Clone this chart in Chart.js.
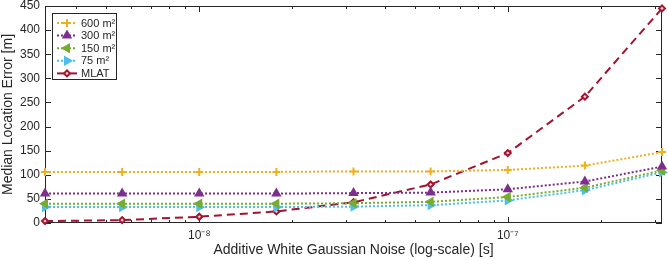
<!DOCTYPE html>
<html lang="en">
<head>
<meta charset="UTF-8">
<title>Median Location Error vs AWGN</title>
<script src="https://cdn.jsdelivr.net/npm/chart.js@4"></script>
<style>
  body { margin: 0; background: #fff; }
  canvas { display: block; }
</style>
</head>
<body>
<canvas id="chart" width="668" height="261"></canvas>
<script>
// noise levels (s), quarter-decade steps
const noise = [3.162e-9, 5.623e-9, 1e-8, 1.778e-8, 3.162e-8, 5.623e-8, 1e-7, 1.778e-7, 3.162e-7];
const seriesLabels = ['600 m²', '300 m²', '150 m²', '75 m²', 'MLAT'];
const area600 = [106, 106, 106, 106, 107, 107, 110, 119, 147];
const area300 = [61, 61, 61, 61, 62, 63, 70, 86, 117];
const area150 = [40, 40, 40, 40, 41, 44, 54, 73, 109];
const area75  = [33, 33, 33, 33, 34, 37, 47, 68, 105];
const mlat    = [4, 6, 13, 24, 43, 80, 145, 262, 445];
const xTicks = [4e-9, 5e-9, 6e-9, 7e-9, 8e-9, 9e-9, 1e-8, 2e-8, 3e-8, 4e-8, 5e-8, 6e-8, 7e-8, 8e-8, 9e-8, 1e-7, 2e-7, 3e-7];
const xTickLabels = { '1e-8': '10⁻⁸', '1e-7': '10⁻⁷' };
const yTicks = [0, 50, 100, 150, 200, 250, 300, 350, 400, 450];

const axisColor = '#262626';
const font = 'Liberation Sans, Arial, sans-serif';

function pts(vals) { return vals.map((v, i) => ({ x: noise[i], y: v })); }

const styles = [
  { color: '#EDB120', pointStyle: 'cross', radius: 4, rotation: 0, dash: [2, 2], fill: '#EDB120' },
  { color: '#7E2F8E', pointStyle: 'triangle', radius: 4, rotation: 0, dash: [2, 2], fill: '#7E2F8E' },
  { color: '#77AC30', pointStyle: 'triangle', radius: 4, rotation: 270, dash: [2, 2], fill: '#77AC30' },
  { color: '#4DBEEE', pointStyle: 'triangle', radius: 4, rotation: 90, dash: [2, 2], fill: '#4DBEEE' },
  { color: '#A2142F', pointStyle: 'rectRot', radius: 3, rotation: 0, dash: [8, 5], fill: '#F3D0D6' }
];
const allData = [area600, area300, area150, area75, mlat];

const datasets = allData.map((d, i) => ({
  label: seriesLabels[i],
  data: pts(d),
  borderColor: styles[i].color,
  backgroundColor: styles[i].fill,
  borderWidth: 2,
  borderDash: styles[i].dash,
  pointStyle: styles[i].pointStyle,
  pointRadius: styles[i].radius,
  pointRotation: styles[i].rotation,
  pointBorderColor: styles[i].color,
  pointBackgroundColor: styles[i].fill,
  pointBorderWidth: 2,
  tension: 0,
  clip: false
}));

// box + inward ticks like the matlab figure
const frame = {
  id: 'frame',
  beforeDatasetsDraw(chart) {
    const { ctx, chartArea: a, scales } = chart;
    ctx.save();
    ctx.strokeStyle = axisColor;
    ctx.lineWidth = 1;
    ctx.strokeRect(a.left + 0.5, a.top + 0.5, a.right - a.left - 1, a.bottom - a.top - 1);
    ctx.beginPath();
    yTicks.forEach(v => {
      const y = Math.round(scales.y.getPixelForValue(v)) + 0.5;
      ctx.moveTo(a.left, y); ctx.lineTo(a.left + 6, y);
      ctx.moveTo(a.right, y); ctx.lineTo(a.right - 6, y);
    });
    xTicks.forEach(v => {
      const x = Math.round(scales.x.getPixelForValue(v)) + 0.5;
      const len = xTickLabels[String(v)] ? 6 : 3;
      ctx.moveTo(x, a.bottom); ctx.lineTo(x, a.bottom - len);
      ctx.moveTo(x, a.top); ctx.lineTo(x, a.top + len);
    });
    ctx.stroke();
    ctx.restore();
  }
};

// legend box in the upper left of the axes
const boxLegend = {
  id: 'boxLegend',
  afterDraw(chart) {
    const { ctx } = chart;
    const x0 = 52, y0 = 13, w = 64, h = 66;
    ctx.save();
    ctx.fillStyle = '#fff';
    ctx.fillRect(x0, y0, w, h);
    ctx.strokeStyle = axisColor;
    ctx.lineWidth = 1;
    ctx.strokeRect(x0 + 0.5, y0 + 0.5, w, h);
    chart.data.datasets.forEach((ds, i) => {
      const y = y0 + 10 + i * 12.6;
      ctx.strokeStyle = ds.borderColor;
      ctx.lineWidth = 2;
      ctx.setLineDash(i === 4 ? [] : [2, 2]);
      ctx.beginPath();
      ctx.moveTo(x0 + 5, y); ctx.lineTo(x0 + 25, y);
      ctx.stroke();
      ctx.setLineDash([]);
      ctx.fillStyle = ds.pointBackgroundColor;
      ctx.strokeStyle = ds.pointBorderColor;
      Chart.helpers.drawPoint(ctx, {
        pointStyle: ds.pointStyle, radius: ds.pointRadius, rotation: ds.pointRotation, borderWidth: 2
      }, x0 + 15, y);
      ctx.fillStyle = axisColor;
      ctx.font = '11px ' + font;
      ctx.textBaseline = 'middle';
      ctx.fillText(ds.label, x0 + 29, y + 0.5);
    });
    ctx.restore();
  }
};

new Chart(document.getElementById('chart'), {
  type: 'line',
  data: { datasets },
  options: {
    responsive: false,
    devicePixelRatio: 1,
    animation: false,
    layout: { padding: { top: 6, right: 1, left: 0, bottom: 0 } },
    plugins: { legend: { display: false }, tooltip: { enabled: false } },
    scales: {
      x: {
        type: 'logarithmic',
        min: 3.162e-9,
        max: 3.162e-7,
        afterBuildTicks: s => { s.ticks = xTicks.map(v => ({ value: v })); },
        afterFit: s => { s.height = 38; s.paddingLeft = 0; s.paddingRight = 0; },
        grid: { display: false, drawTicks: false },
        border: { display: false },
        ticks: {
          autoSkip: false, maxRotation: 0, padding: 5,
          color: axisColor, font: { family: font, size: 12 },
          callback: v => xTickLabels[String(v)] || ''
        },
        title: {
          display: true, text: 'Additive White Gaussian Noise (log-scale) [s]',
          color: axisColor, font: { family: font, size: 14 }, padding: { top: 0, bottom: 2 }
        }
      },
      y: {
        min: 0,
        max: 450,
        afterBuildTicks: s => { s.ticks = yTicks.map(v => ({ value: v })); },
        afterFit: s => { s.width = 45; s.paddingTop = 0; s.paddingBottom = 0; },
        grid: { display: false, drawTicks: false },
        border: { display: false },
        ticks: { padding: 5, color: axisColor, font: { family: font, size: 12 } },
        title: {
          display: true, text: 'Median Location Error [m]',
          color: axisColor, font: { family: font, size: 14 }, padding: { top: 0, bottom: 2 }
        }
      }
    }
  },
  plugins: [frame, boxLegend]
});
</script>
</body>
</html>
